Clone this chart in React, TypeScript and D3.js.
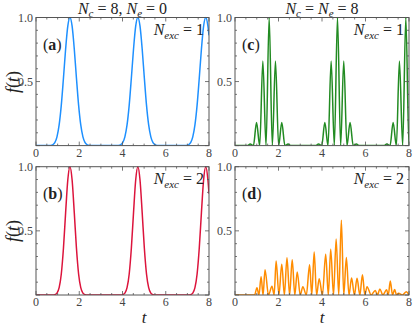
import React from 'react'
import * as d3 from 'd3'

// (t, f), one list per panel
const seriesA: [number, number][] = [
  [0, 0], [0.57, 0], [0.67, 0.001], [0.77, 0.006], [0.87, 0.023], [0.97, 0.068], [1.07, 0.161],
  [1.17, 0.316], [1.27, 0.528], [1.37, 0.754], [1.47, 0.932], [1.57, 1], [1.67, 0.932], [1.77, 0.754],
  [1.87, 0.528], [1.97, 0.316], [2.07, 0.161], [2.17, 0.068], [2.27, 0.023], [2.37, 0.006], [2.47, 0.001],
  [2.57, 0], [3.71, 0], [3.81, 0.001], [3.91, 0.006], [4.01, 0.023], [4.11, 0.068], [4.21, 0.161],
  [4.31, 0.316], [4.41, 0.528], [4.51, 0.754], [4.61, 0.932], [4.71, 1], [4.81, 0.932], [4.91, 0.754],
  [5.01, 0.528], [5.11, 0.316], [5.21, 0.161], [5.31, 0.068], [5.41, 0.023], [5.51, 0.006], [5.61, 0.001],
  [5.71, 0], [6.85, 0], [6.95, 0.001], [7.05, 0.006], [7.15, 0.023], [7.25, 0.068], [7.35, 0.161],
  [7.45, 0.316], [7.55, 0.528], [7.65, 0.754], [7.75, 0.932], [7.85, 1], [7.95, 0.932], [8, 0.861]
]

const seriesB: [number, number][] = [
  [0, 0], [0.77, 0], [0.87, 0.003], [0.97, 0.015], [1.07, 0.057], [1.17, 0.164], [1.27, 0.366],
  [1.37, 0.642], [1.47, 0.896], [1.57, 1], [1.67, 0.896], [1.77, 0.642], [1.87, 0.366], [1.97, 0.164],
  [2.07, 0.057], [2.17, 0.015], [2.27, 0.003], [2.37, 0], [3.91, 0], [4.01, 0.003], [4.11, 0.015],
  [4.21, 0.057], [4.31, 0.164], [4.41, 0.366], [4.51, 0.642], [4.61, 0.896], [4.71, 1], [4.81, 0.896],
  [4.91, 0.642], [5.01, 0.366], [5.11, 0.164], [5.21, 0.057], [5.31, 0.015], [5.41, 0.003], [5.51, 0],
  [7.05, 0], [7.15, 0.003], [7.25, 0.015], [7.35, 0.057], [7.45, 0.164], [7.55, 0.366], [7.65, 0.642],
  [7.75, 0.896], [7.85, 1], [7.95, 0.896], [8, 0.79]
]

const seriesC: [number, number][] = [
  [0, 0], [0.57, 0], [0.7, 0.012], [0.846, 0], [0.99, 0.18], [1.136, 0], [1.28, 0.66], [1.426, 0],
  [1.571, 1], [1.716, 0], [1.86, 0.66], [2.006, 0], [2.15, 0.18], [2.296, 0], [2.44, 0.012], [2.57, 0],
  [3.71, 0], [3.84, 0.012], [3.987, 0], [4.13, 0.18], [4.277, 0], [4.42, 0.66], [4.567, 0], [4.712, 1],
  [4.857, 0], [5.0, 0.66], [5.147, 0], [5.29, 0.18], [5.437, 0], [5.58, 0.012], [5.71, 0],
  [6.85, 0], [6.98, 0.012], [7.129, 0], [7.27, 0.18], [7.419, 0], [7.56, 0.66], [7.709, 0], [7.854, 1],
  [7.999, 0], [8, 0]
]

const seriesD: [number, number][] = [
  [0, 0], [0.9, 0], [1.01, 0.057], [1.1, 0], [1.2, 0.143], [1.29, 0], [1.38, 0.197], [1.54, 0],
  [1.7, 0.068], [1.8, 0], [1.89, 0.265], [2.02, 0], [2.15, 0.24], [2.27, 0], [2.39, 0.29], [2.51, 0],
  [2.63, 0.275], [2.75, 0], [2.86, 0.18], [3.0, 0], [3.12, 0.065], [3.28, 0], [3.43, 0.235], [3.53, 0],
  [3.64, 0.335], [3.75, 0], [3.87, 0.127], [4.02, 0], [4.17, 0.318], [4.29, 0], [4.4, 0.356], [4.53, 0],
  [4.65, 0.436], [4.77, 0], [4.89, 0.583], [5.0, 0], [5.12, 0.292], [5.24, 0], [5.36, 0.133], [5.49, 0],
  [5.61, 0.13], [5.74, 0], [5.86, 0.158], [5.97, 0], [6.07, 0.065], [6.26, 0], [6.45, 0.036], [6.55, 0],
  [6.66, 0.047], [6.8, 0], [6.97, 0.04], [7.05, 0], [7.14, 0.11], [7.24, 0], [7.34, 0.042], [7.43, 0],
  [7.52, 0.013], [7.7, 0], [7.88, 0.026], [8, 0]
]

const xTickLabels = [0, 2, 4, 6, 8]
const yTickLabels = [0.5, 1.0]
const titles = [['c', '8', 'e', '0'], ['c', 'e', '8']]

const font = "'Liberation Serif', 'DejaVu Serif', serif"
const frameColor = '#555'
const labelColor = '#444'

const cols = [[36, 209], [235, 409]]
const rows = [[145.6, 17.5], [295, 166.7]]

const panels = [
  { id: 'a', data: seriesA, color: '#1e90ff', col: 0, row: 0, nexc: '1' },
  { id: 'c', data: seriesC, color: '#228b22', col: 1, row: 0, nexc: '1' },
  { id: 'b', data: seriesB, color: '#dc143c', col: 0, row: 1, nexc: '2' },
  { id: 'd', data: seriesD, color: '#ff8c00', col: 1, row: 1, nexc: '2' }
]

function Panel ({ p }: { p: typeof panels[number] }) {
  const [xl, xr] = cols[p.col]
  const [yb, yt] = rows[p.row]
  const x = d3.scaleLinear().domain([0, 8]).range([xl, xr])
  const y = d3.scaleLinear().domain([0, 1]).range([yb, yt])
  const line = d3.line<[number, number]>()
    .x(d => x(d[0]))
    .y(d => y(d[1]))
    .curve(d3.curveMonotoneX)

  const xt = d3.range(0, 8.01, 0.5)
  const yt2 = d3.range(0, 1.001, 0.1)
  const clipId = 'clip-' + p.id

  return (
    <g>
      <defs>
        <clipPath id={clipId}>
          <rect x={xl} y={yt - 1} width={xr - xl} height={yb - yt + 1} />
        </clipPath>
      </defs>
      <path d={line(p.data) || ''} fill='none' stroke={p.color} strokeWidth={1.5} clipPath={`url(#${clipId})`} />
      {/* ticks point inwards, mirrored on all four sides */}
      {xt.map((v, i) => {
        const len = i % 4 === 0 ? 4 : 2
        return (
          <g key={'x' + i} stroke={frameColor} strokeWidth={0.8}>
            <line x1={x(v)} x2={x(v)} y1={yb} y2={yb - len} />
            <line x1={x(v)} x2={x(v)} y1={yt} y2={yt + len} />
          </g>
        )
      })}
      {yt2.map((v, i) => {
        const len = i % 5 === 0 ? 4 : 2
        return (
          <g key={'y' + i} stroke={frameColor} strokeWidth={0.8}>
            <line x1={xl} x2={xl + len} y1={y(v)} y2={y(v)} />
            <line x1={xr} x2={xr - len} y1={y(v)} y2={y(v)} />
          </g>
        )
      })}
      <rect x={xl} y={yt} width={xr - xl} height={yb - yt} fill='none' stroke={frameColor} strokeWidth={1} />
      {xTickLabels.map(v => (
        <text key={'xl' + v} x={x(v)} y={yb + 11} textAnchor='middle' fontSize={12} fill={labelColor}>{v}</text>
      ))}
      {yTickLabels.map(v => (
        <text key={'yl' + v} x={xl - 3} y={y(v) + 4} textAnchor='end' fontSize={12} fill={labelColor}>{v.toFixed(1)}</text>
      ))}
      <text x={xl + 7} y={yt + 32} fontSize={16} fill='#222'>
        (<tspan fontWeight='bold'>{p.id}</tspan>)
      </text>
      <text x={xr - 5} y={yt + 17} textAnchor='end' fontSize={16} fill='#222'>
        <tspan fontStyle='italic'>N</tspan>
        <tspan fontStyle='italic' fontSize={11} dy={4}>exc</tspan>
        <tspan dy={-4}>{' = ' + p.nexc}</tspan>
      </text>
    </g>
  )
}

export default function App () {
  const [t0, t1] = titles
  return (
    <svg width={415} height={327} style={{ position: 'absolute', left: 0, top: 0, background: '#fff', fontFamily: font }}>
      {panels.map(p => <Panel key={p.id} p={p} />)}
      <text x={122.5} y={14} textAnchor='middle' fontSize={16} fill='#222'>
        <tspan fontStyle='italic'>N</tspan>
        <tspan fontStyle='italic' fontSize={11} dy={3}>{t0[0]}</tspan>
        <tspan dy={-3}>{' = ' + t0[1] + ', '}</tspan>
        <tspan fontStyle='italic'>N</tspan>
        <tspan fontStyle='italic' fontSize={11} dy={3}>{t0[2]}</tspan>
        <tspan dy={-3}>{' = ' + t0[3]}</tspan>
      </text>
      <text x={322} y={14} textAnchor='middle' fontSize={16} fill='#222'>
        <tspan fontStyle='italic'>N</tspan>
        <tspan fontStyle='italic' fontSize={11} dy={3}>{t1[0]}</tspan>
        <tspan dy={-3}>{' = '}</tspan>
        <tspan fontStyle='italic'>N</tspan>
        <tspan fontStyle='italic' fontSize={11} dy={3}>{t1[1]}</tspan>
        <tspan dy={-3}>{' = ' + t1[2]}</tspan>
      </text>
      {[82, 231].map(cy => (
        <text key={cy} transform={`translate(19, ${cy}) rotate(-90)`} textAnchor='middle' fontSize={18} fill='#222'>
          <tspan fontStyle='italic'>f</tspan>(<tspan fontStyle='italic'>t</tspan>)
        </text>
      ))}
      <text x={144} y={323} textAnchor='middle' fontSize={17} fontStyle='italic' fill='#222'>t</text>
      <text x={322} y={323} textAnchor='middle' fontSize={17} fontStyle='italic' fill='#222'>t</text>
    </svg>
  )
}
